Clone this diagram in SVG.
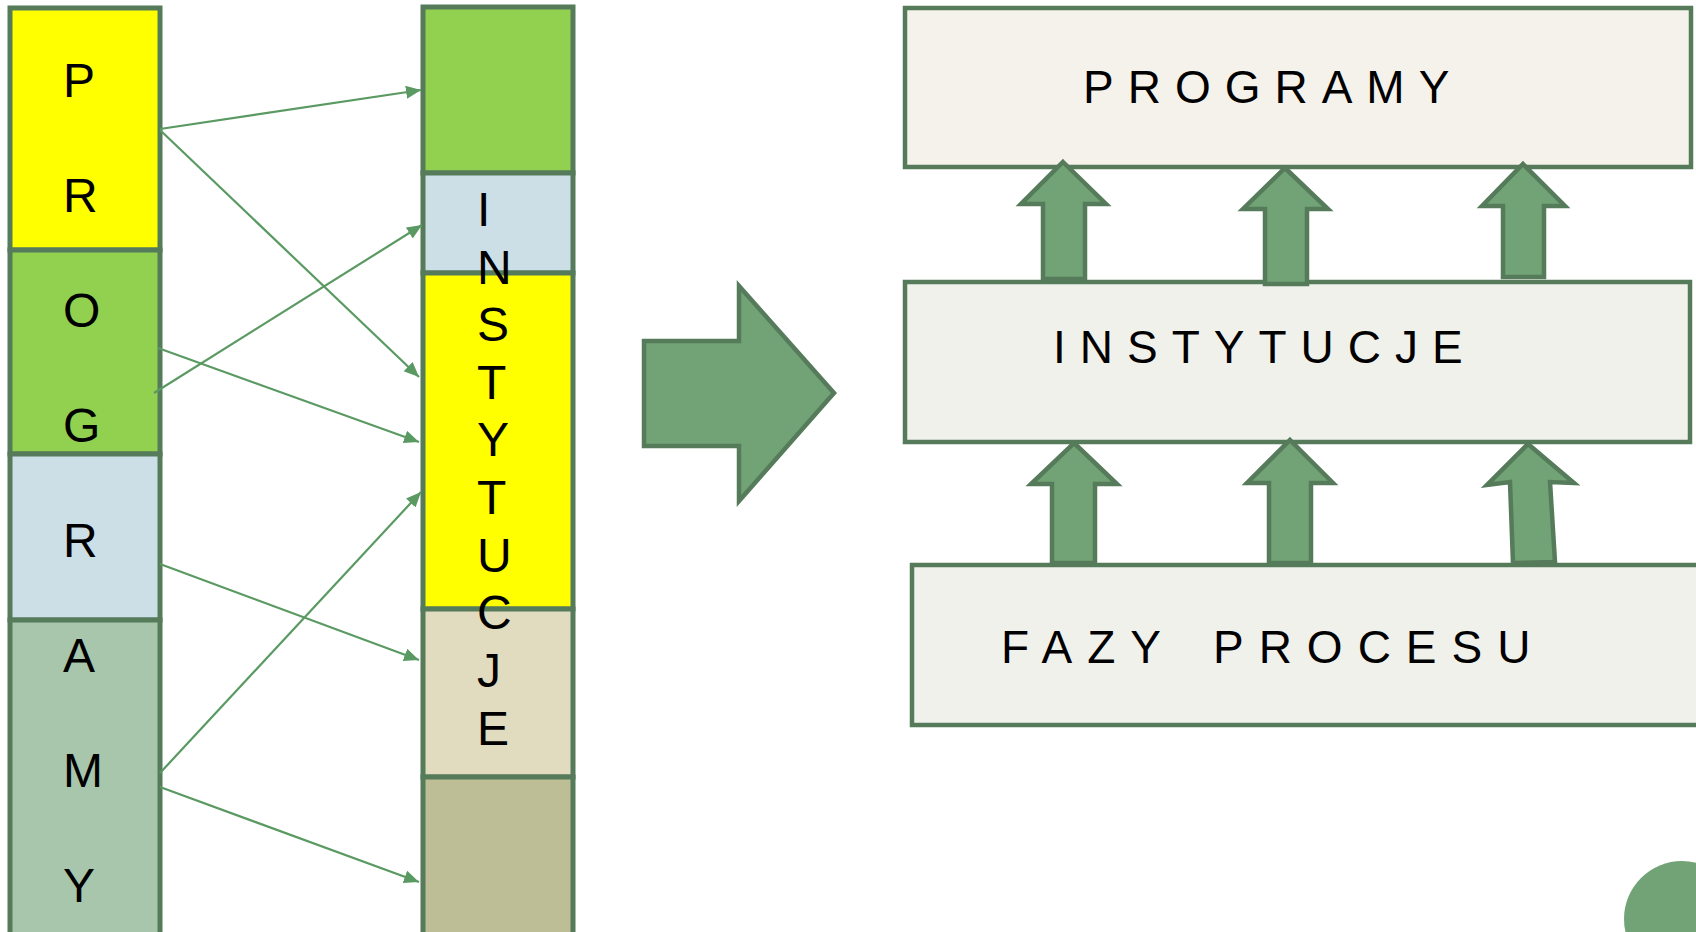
<svg xmlns="http://www.w3.org/2000/svg" width="1696" height="932" viewBox="0 0 1696 932">
<style>
.seg{stroke:#557b5a;stroke-width:5}
.col{font-family:"Liberation Sans",Arial,sans-serif;font-size:48px;fill:#000}
.box{stroke:#557b5a;stroke-width:4.5}
.lbl{font-family:"Liberation Sans",Arial,sans-serif;font-size:46px;fill:#000}
.con{stroke:#5a9a62;stroke-width:2.2;fill:none;marker-end:url(#ah)}
.blk{fill:#72a376;stroke:#557b5a;stroke-width:4.5;stroke-linejoin:miter}
</style>
<defs>
<marker id="ah" markerUnits="userSpaceOnUse" markerWidth="16" markerHeight="14" refX="15" refY="6.5" orient="auto">
<path d="M0,0 L15,6.5 L0,13 Z" fill="#5a9a62"/>
</marker>
</defs>
<rect width="1696" height="932" fill="#ffffff"/>

<g id="programy-column">
<rect class="seg" x="10" y="8" width="150" height="242" fill="#ffff00"/>
<rect class="seg" x="10" y="250" width="150" height="204" fill="#92d050"/>
<rect class="seg" x="10" y="454" width="150" height="166" fill="#cddfe6"/>
<rect class="seg" x="10" y="620" width="150" height="316" fill="#a8c6ab"/>
<text class="col"><tspan x="63" y="97">P</tspan><tspan x="63" y="212">R</tspan><tspan x="63" y="327">O</tspan><tspan x="63" y="442">G</tspan><tspan x="63" y="557">R</tspan><tspan x="63" y="672">A</tspan><tspan x="63" y="787">M</tspan><tspan x="63" y="902">Y</tspan></text>
</g>

<g id="instytucje-column">
<rect class="seg" x="423" y="7" width="150" height="166" fill="#92d050"/>
<rect class="seg" x="423" y="173" width="150" height="100" fill="#cddfe6"/>
<rect class="seg" x="423" y="273" width="150" height="336" fill="#ffff00"/>
<rect class="seg" x="423" y="609" width="150" height="168" fill="#e1dcbf"/>
<rect class="seg" x="423" y="777" width="150" height="159" fill="#bdbe95"/>
<text class="col"><tspan x="477" y="226">I</tspan><tspan x="477" y="284">N</tspan><tspan x="477" y="341">S</tspan><tspan x="477" y="399">T</tspan><tspan x="477" y="456">Y</tspan><tspan x="477" y="514">T</tspan><tspan x="477" y="572">U</tspan><tspan x="477" y="629">C</tspan><tspan x="477" y="687">J</tspan><tspan x="477" y="745">E</tspan></text>
</g>

<g id="connectors">
<line class="con" x1="160" y1="129" x2="421" y2="90"/>
<line class="con" x1="160" y1="130" x2="419" y2="377"/>
<line class="con" x1="154" y1="393" x2="422" y2="225"/>
<line class="con" x1="158" y1="348" x2="419" y2="442"/>
<line class="con" x1="160" y1="564" x2="419" y2="660"/>
<line class="con" x1="160" y1="773" x2="421" y2="492"/>
<line class="con" x1="160" y1="787" x2="419" y2="882"/>
</g>

<g id="big-arrow">
<path class="blk" d="M644,341 L739,341 L739,286 L834,393 L739,501 L739,446 L644,446 Z"/>
</g>

<g id="box-programy">
<rect class="box" x="905" y="8" width="786" height="159" fill="#f5f2eb"/>
<text class="lbl" x="1083" y="103" letter-spacing="14">PROGRAMY</text>
</g>

<g id="box-instytucje">
<rect class="box" x="905" y="282" width="785" height="160" fill="#f1f1ec"/>
<text class="lbl" x="1053" y="363" letter-spacing="14">INSTYTUCJE</text>
</g>

<g id="box-fazy">
<rect class="box" x="912" y="565" width="800" height="160" fill="#f1f1ec"/>
<text class="lbl" x="1001" y="663" letter-spacing="15" word-spacing="10">FAZY PROCESU</text>
</g>

<g id="up-arrows">
<path class="blk" d="M1063,162 L1106,204 L1085,204 L1085,279 L1043,279 L1043,204 L1021,204 Z"/>
<path class="blk" d="M1285,168 L1328,209 L1307,209 L1307,284 L1265,284 L1265,209 L1243,209 Z"/>
<path class="blk" d="M1523,164 L1565,206 L1544,206 L1544,277 L1503,277 L1503,206 L1482,206 Z"/>
<path class="blk" d="M1074,443 L1117,484 L1095,484 L1095,563 L1052,563 L1052,484 L1031,484 Z"/>
<path class="blk" d="M1290,440 L1333,483 L1311,483 L1311,563 L1269,563 L1269,483 L1247,483 Z"/>
<path class="blk" d="M1528,444 L1574,483 L1550,482 L1555,562 L1513,563 L1510,482 L1487,485 Z"/>
</g>

<g id="corner-circle">
<circle cx="1682" cy="919" r="58" fill="#72a376"/>
</g>
</svg>
